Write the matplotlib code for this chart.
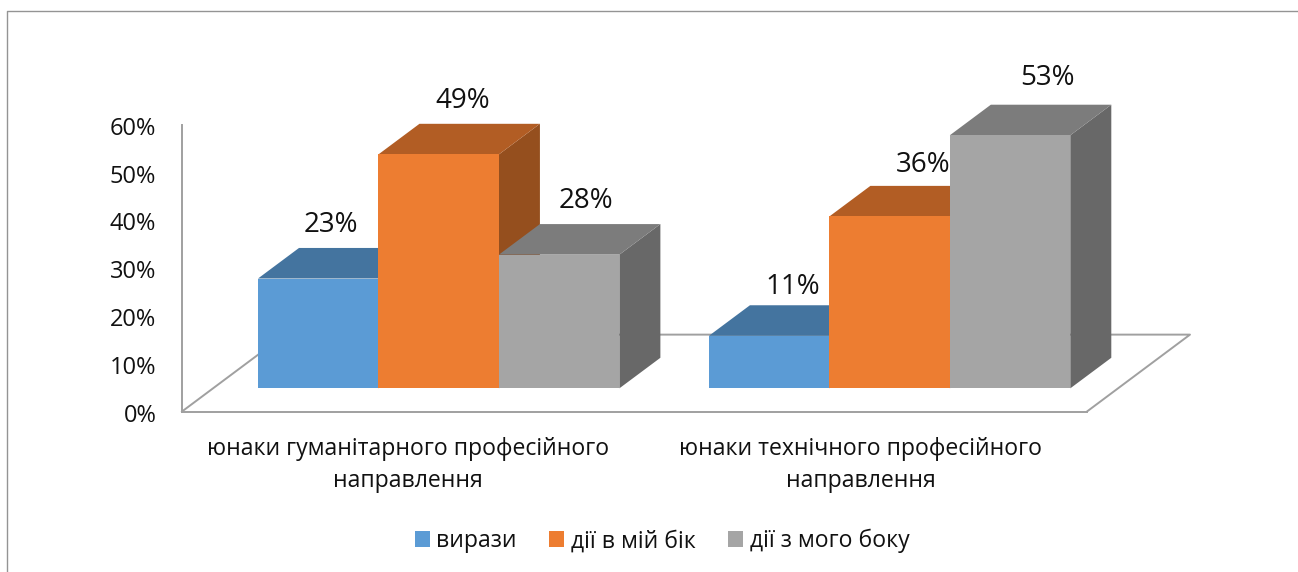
import matplotlib
matplotlib.use('Agg')
import matplotlib.pyplot as plt
from matplotlib.patches import Polygon, Rectangle
from matplotlib.lines import Line2D
from matplotlib.transforms import ScaledTranslation

plt.rcParams['font.family'] = ['Open Sans', 'DejaVu Sans']

categories = ['юнаки гуманітарного професійного\nнаправлення',
              'юнаки технічного професійного\nнаправлення']
series_names = ['вирази', 'дії в мій бік', 'дії з мого боку']
values = [[23, 49, 28], [11, 36, 53]]
y_ticks = [0, 10, 20, 30, 40, 50, 60]
data_labels = [['23%', '49%', '28%'], ['11%', '36%', '53%']]

front_colors = ['#5b9bd5', '#ed7d31', '#a5a5a5']
top_colors = ['#44749f', '#b25d24', '#7c7c7c']
side_colors = ['#375f82', '#954f1e', '#686868']
axis_color = '#a0a0a0'

# depth of the fake 3d, in data units (x = category, y = percent)
bar_w = 0.2662
floor_dx = 0.2276
floor_dy = 16.1
bar_dx = 0.0906
bar_dy = 6.4
base_x = [0.168, 0.1645]
base_y = 4.85
# labels were placed by hand in the original, so each has its own shift
label_dx = [[0.027, 0.053, 0.060], [0.052, 0.073, 0.082]]
label_dy = [[4.9, 4.7, 4.8], [3.9, 4.4, 5.5]]


def draw_bar(ax, x, val, i):
    y0 = base_y
    y1 = base_y + val
    x1 = x + bar_w
    ax.add_patch(Polygon([(x1, y0), (x1 + bar_dx, y0 + bar_dy), (x1 + bar_dx, y1 + bar_dy), (x1, y1)],
                         fc=side_colors[i], ec='none', zorder=3 + x, clip_on=False))
    ax.add_patch(Polygon([(x, y1), (x + bar_dx, y1 + bar_dy), (x1 + bar_dx, y1 + bar_dy), (x1, y1)],
                         fc=top_colors[i], ec='none', zorder=3 + x, clip_on=False))
    ax.add_patch(Rectangle((x, y0), bar_w, val, fc=front_colors[i], ec='none', zorder=3 + x, clip_on=False))


fig = plt.figure(figsize=(12.98, 5.72), dpi=100)
# axes box runs from the 0% corner to the 60% top of the axis line
ax = fig.add_axes([182 / 1298, 1 - 411.5 / 572, 905 / 1298, 286.5 / 572])
ax.set_xlim(0, 2)
ax.set_ylim(0, 60)
ax.patch.set_visible(False)
for s in ['top', 'right']:
    ax.spines[s].set_visible(False)
for s in ['left', 'bottom']:
    ax.spines[s].set_color(axis_color)
    ax.spines[s].set_linewidth(1.4)

ax.set_yticks(y_ticks)
ax.set_yticklabels([f'{t}%' for t in y_ticks], fontsize=17, color='#111111')
ax.tick_params(axis='y', length=0, pad=18.5)
ax.set_xticks([])
shift = ScaledTranslation(0, -1 / 100, fig.dpi_scale_trans)
for lab in ax.get_yticklabels():
    lab.set_transform(lab.get_transform() + shift)

# floor outline
ax.plot([0, floor_dx, 2 + floor_dx, 2], [0, floor_dy, floor_dy, 0], color=axis_color, lw=1.4,
        clip_on=False, zorder=1)

for c in range(len(categories)):
    for i in range(len(series_names)):
        x = c + base_x[c] + i * bar_w
        draw_bar(ax, x, values[c][i], i)
        ax.text(x + bar_w / 2 + label_dx[c][i], base_y + values[c][i] + bar_dy + label_dy[c][i], data_labels[c][i],
                ha='center', va='center', fontsize=20, color='#111111', zorder=10, clip_on=False)
    ax.text(c + 0.5, -5.4, categories[c], ha='center', va='top', fontsize=16.6, color='#111111',
            linespacing=1.45, clip_on=False)

handles = [Rectangle((0, 0), 1, 1, fc=col, ec='none') for col in front_colors]
fig.legend(handles, series_names, loc='center', bbox_to_anchor=(662 / 1298, 1 - 541 / 572), ncol=3,
           frameon=False, fontsize=16.6, handlelength=0.64, handleheight=0.64, handletextpad=0.3,
           columnspacing=1.4, labelcolor='#111111')

# chart frame, only top and left are inside the crop
fig.add_artist(Line2D([6.5 / 1298, 6.5 / 1298, 1], [0, 1 - 10.5 / 572, 1 - 10.5 / 572], color='#949494', lw=1.0))

fig.savefig('out.png', dpi=100)
